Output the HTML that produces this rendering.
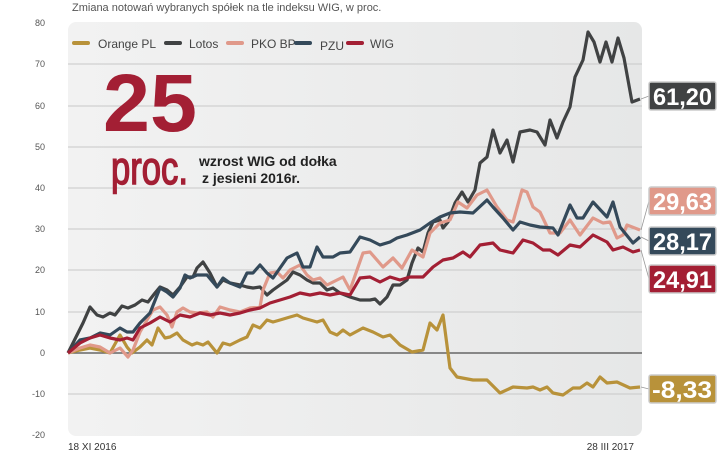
<!DOCTYPE html>
<html><head><meta charset="utf-8"><style>
body{margin:0;background:#fff;width:720px;height:455px;overflow:hidden}
svg{display:block}
text{font-family:"Liberation Sans",sans-serif}
</style></head><body>
<svg width="720" height="455" viewBox="0 0 720 455">
<defs><linearGradient id="g" x1="0" x2="1" y1="0" y2="0"><stop offset="0" stop-color="#f2f2f2"/><stop offset="1" stop-color="#e6e7e7"/></linearGradient></defs>
<text x="72" y="11" font-size="11" fill="#555">Zmiana notowań wybranych spółek na tle indeksu WIG, w proc.</text>
<rect x="68" y="22" width="574" height="414" rx="8" fill="url(#g)"/>
<g stroke="#c8c8c8" stroke-width="1">
<line x1="68" x2="642" y1="64" y2="64"/><line x1="68" x2="642" y1="106" y2="106"/><line x1="68" x2="642" y1="147" y2="147"/><line x1="68" x2="642" y1="188" y2="188"/><line x1="68" x2="642" y1="229" y2="229"/><line x1="68" x2="642" y1="270" y2="270"/><line x1="68" x2="642" y1="312" y2="312"/><line x1="68" x2="642" y1="394" y2="394"/>
</g>
<line x1="68" x2="642" y1="353" y2="353" stroke="#666" stroke-width="1.5"/>
<g font-size="9" fill="#555" text-anchor="end">
<text x="45" y="26">80</text><text x="45" y="67">70</text><text x="45" y="109">60</text><text x="45" y="150">50</text><text x="45" y="191">40</text><text x="45" y="232">30</text><text x="45" y="273">20</text><text x="45" y="315">10</text><text x="45" y="356">0</text><text x="45" y="397">-10</text><text x="45" y="438">-20</text>
</g>
<text x="68" y="450" font-size="10" fill="#333">18 XI 2016</text>
<text x="634" y="450" font-size="10" fill="#333" text-anchor="end">28 III 2017</text>
<g font-size="12" fill="#444">
<line x1="74" x2="88" y1="43" y2="43" stroke="#b8923a" stroke-width="4" stroke-linecap="round"/><text x="98" y="48">Orange PL</text>
<line x1="166" x2="180" y1="43" y2="43" stroke="#404243" stroke-width="4" stroke-linecap="round"/><text x="189" y="48">Lotos</text>
<line x1="228" x2="242" y1="43" y2="43" stroke="#e0998a" stroke-width="4" stroke-linecap="round"/><text x="251" y="48">PKO BP</text>
<line x1="296" x2="310" y1="43" y2="43" stroke="#34495a" stroke-width="4" stroke-linecap="round"/><text x="320" y="50">PZU</text>
<line x1="348" x2="362" y1="43" y2="43" stroke="#a31f34" stroke-width="4" stroke-linecap="round"/><text x="370" y="48">WIG</text>
</g>
<text x="103" y="131" font-size="82" font-weight="bold" fill="#a31f34" textLength="94" lengthAdjust="spacingAndGlyphs">25</text>
<text x="111" y="184" font-size="46" fill="#a31f34" stroke="#a31f34" stroke-width="1.5" textLength="77" lengthAdjust="spacingAndGlyphs">proc.</text>
<text x="199" y="166" font-size="14" font-weight="bold" fill="#222">wzrost WIG od dołka</text>
<text x="202" y="183" font-size="14" font-weight="bold" fill="#222">z jesieni 2016r.</text>
<g fill="none" stroke-width="3.2" stroke-linejoin="round">
<polyline stroke="#b8923a" points="68,353 80,350 90,348 100,350 110,353 120,335 127,347 132,353 140,347 147,340 152,345 158,328 165,338 170,337 177,333 183,340 192,345 197,343 203,345 208,342 217,353 223,343 230,345 240,340 247,337 253,325 260,328 267,320 273,322 280,320 290,317 297,315 303,318 310,320 317,322 323,320 330,332 337,335 343,330 350,335 363,328 373,332 383,337 390,335 400,345 412,352 423,350 430,323 437,330 443,315 450,368 457,377 473,380 487,380 500,393 513,387 527,388 533,387 540,390 547,387 553,393 563,395 573,388 580,388 587,383 593,387 600,377 607,383 617,382 630,388 640,387"/>
<polyline stroke="#404243" points="68,353 83,323 90,307 97,315 103,317 110,313 115,315 122,306 128,308 135,305 142,300 148,302 155,293 160,287 167,290 173,295 180,287 187,277 193,277 197,268 203,262 210,273 217,287 223,280 230,283 240,285 247,287 253,288 260,287 267,295 273,290 280,285 287,280 293,272 300,275 307,280 313,283 320,283 327,290 333,288 340,293 350,297 360,300 370,300 375,299 380,304 387,297 393,285 400,285 407,280 412,263 418,248 423,252 428,233 433,222 440,220 443,228 448,222 455,203 462,192 468,202 475,190 480,163 487,157 493,130 500,153 507,140 513,162 520,132 530,130 537,132 545,145 550,120 557,138 563,122 570,107 575,77 583,60 588,32 594,42 600,62 606,42 612,62 618,38 624,58 632,102 640,99"/>
<polyline stroke="#e0998a" points="68,353 80,348 90,345 100,347 110,353 120,348 128,357 133,350 140,332 147,320 153,310 160,307 167,315 172,327 177,312 183,308 190,312 197,313 207,312 213,317 220,307 230,310 240,312 250,308 260,307 263,290 270,273 277,272 283,278 290,270 300,265 307,275 313,280 320,278 327,285 337,280 343,277 350,290 357,270 363,253 370,252 383,267 393,258 402,268 412,250 423,257 430,233 440,223 450,220 458,202 467,208 477,195 487,190 497,207 507,220 513,222 522,190 527,192 533,207 540,212 550,233 560,233 570,220 580,235 593,218 603,223 610,222 617,238 623,235 627,225 640,230"/>
<polyline stroke="#34495a" points="68,353 80,340 90,338 100,333 110,335 120,328 127,332 133,332 140,323 150,313 160,288 167,292 173,297 180,288 185,275 190,278 197,275 207,275 217,287 223,278 230,283 240,287 247,273 253,273 260,265 267,273 273,278 280,268 287,258 297,253 303,267 310,267 317,247 323,257 333,257 340,253 350,252 360,237 370,240 380,245 390,242 397,238 407,235 420,230 430,223 440,217 450,213 460,212 473,213 487,200 493,207 503,218 513,230 520,222 530,225 540,227 553,228 558,235 570,205 577,218 583,218 593,202 607,217 613,202 620,227 633,243 640,237"/>
<polyline stroke="#a31f34" points="68,353 80,343 90,338 100,335 110,338 120,340 127,338 133,340 140,328 150,323 160,317 170,322 180,315 190,317 200,313 210,315 220,313 230,315 240,313 250,310 260,308 270,303 280,300 290,297 300,293 310,295 320,293 330,295 340,293 350,295 360,278 370,277 380,282 390,277 400,280 410,277 423,277 433,267 443,260 453,258 463,252 470,257 480,245 493,243 500,250 513,253 523,240 533,243 543,250 550,250 558,255 570,245 580,247 593,235 607,242 613,250 623,247 633,252 640,250"/>
</g>
<g stroke="#999" stroke-width="0.8" fill="none">
<line x1="641" y1="99" x2="649" y2="96"/><line x1="641" y1="230" x2="649" y2="201"/><line x1="641" y1="237" x2="649" y2="241"/><line x1="641" y1="250" x2="649" y2="279"/><line x1="641" y1="387" x2="649" y2="389"/>
</g>
<g stroke="#ccc" stroke-width="1.5">
<rect x="649" y="82" width="67" height="28" rx="2" fill="#404243"/>
<rect x="649" y="187" width="67" height="28" rx="2" fill="#e0998a"/>
<rect x="649" y="227" width="67" height="28" rx="2" fill="#34495a"/>
<rect x="649" y="265" width="67" height="28" rx="2" fill="#a31f34"/>
<rect x="649" y="375" width="67" height="28" rx="2" fill="#b8923a"/>
</g>
<g font-size="24" font-weight="bold" fill="#fff">
<text x="653" y="105" textLength="59" lengthAdjust="spacingAndGlyphs">61,20</text>
<text x="653" y="210" textLength="59" lengthAdjust="spacingAndGlyphs">29,63</text>
<text x="653" y="250" textLength="59" lengthAdjust="spacingAndGlyphs">28,17</text>
<text x="653" y="288" textLength="59" lengthAdjust="spacingAndGlyphs">24,91</text>
<text x="652" y="398" textLength="60" lengthAdjust="spacingAndGlyphs">-8,33</text>
</g>
</svg>
</body></html>
